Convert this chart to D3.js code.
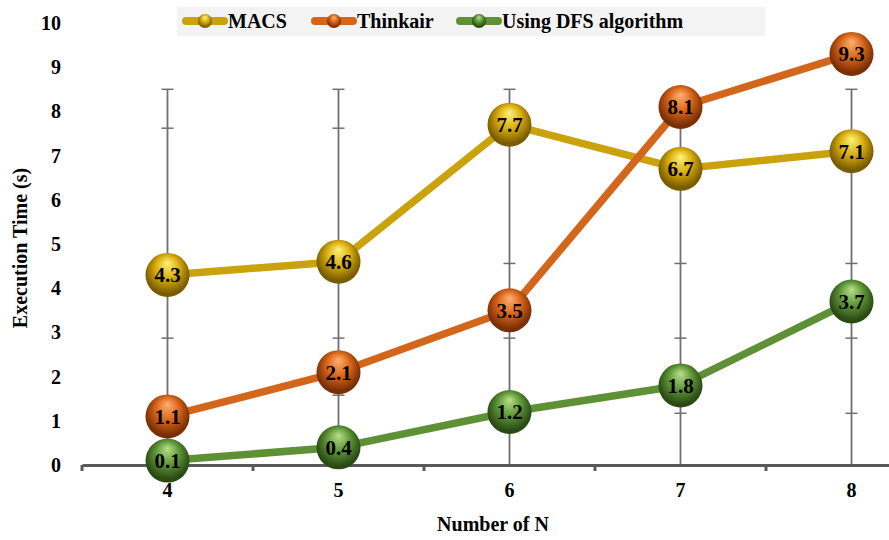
<!DOCTYPE html>
<html>
<head>
<meta charset="utf-8">
<script src="https://cdn.jsdelivr.net/npm/d3@7"></script>
<style>
  html, body { margin: 0; padding: 0; background: #fff; }
  svg { display: block; }
  text { font-family: "Liberation Serif", "Times New Roman", serif; font-weight: bold; fill: #000; }
</style>
</head>
<body>
<svg id="chart" width="889" height="540"></svg>
<script>
// Categories along the x axis
const categories = ["4", "5", "6", "7", "8"];

// Execution time (s) for each approach
const macs = [4.3, 4.6, 7.7, 6.7, 7.1];
const thinkair = [1.1, 2.1, 3.5, 8.1, 9.3];
const dfs = [0.1, 0.4, 1.2, 1.8, 3.7];

const seriesNames = ["MACS", "Thinkair", "Using DFS algorithm"];

// Y axis ticks
const yTicks = [0, 1, 2, 3, 4, 5, 6, 7, 8, 9, 10];

// Range bars drawn at each category: top value and tick positions
const rangeTop = [8.5, 8.5, 8.5, 8.5, 8.5];
const rangeTicks = [
  [7.62, 2.87],
  [7.62, 2.87, 1.58],
  [7.62, 4.56, 2.87],
  [4.56, 2.87, 1.17],
  [4.56, 2.87, 1.17]
];

const colors = {
  "MACS": { line: "#C9A20C", light: "#FFF27A", base: "#D9AE0E", dark: "#7A5C00" },
  "Thinkair": { line: "#D4661C", light: "#FFB070", base: "#D9661A", dark: "#7A2E05" },
  "Using DFS algorithm": { line: "#5E9136", light: "#B8E08A", base: "#5E9638", dark: "#2A4A14" }
};

const svg = d3.select("#chart");
const defs = svg.append("defs");

seriesNames.forEach((name, i) => {
  const c = colors[name];
  const g = defs.append("radialGradient")
    .attr("id", "sphere" + i)
    .attr("cx", "50%").attr("cy", "45%").attr("r", "60%")
    .attr("fx", "50%").attr("fy", "22%");
  g.append("stop").attr("offset", "0%").attr("stop-color", c.light);
  g.append("stop").attr("offset", "45%").attr("stop-color", c.base);
  g.append("stop").attr("offset", "85%").attr("stop-color", c.dark);
  g.append("stop").attr("offset", "100%").attr("stop-color", c.dark);
});

const x = d3.scaleBand().domain(categories).range([82, 937]);
const y = d3.scaleLinear().domain([0, 10]).range([465, 23]);
const cx = d => x(d) + x.bandwidth() / 2;

// Range bars
const rb = svg.append("g").attr("class", "range-bars");
categories.forEach((c, i) => {
  rb.append("line")
    .attr("x1", cx(c)).attr("x2", cx(c))
    .attr("y1", y(0)).attr("y2", y(rangeTop[i]))
    .attr("stroke", "#707070").attr("stroke-width", 1.8);
  [rangeTop[i]].concat(rangeTicks[i]).forEach(v => {
    rb.append("line")
      .attr("x1", cx(c) - 6).attr("x2", cx(c) + 6)
      .attr("y1", y(v)).attr("y2", y(v))
      .attr("stroke", "#707070").attr("stroke-width", 1.5);
  });
});

// X axis
const xAxis = d3.axisBottom(x).tickSize(0).tickPadding(18);
const gx = svg.append("g").attr("transform", `translate(0,${y(0)})`).call(xAxis);
gx.select(".domain").attr("stroke", "#595959").attr("stroke-width", 3);
gx.selectAll("text").attr("font-size", 20).style("font-family", "Liberation Serif, serif").style("font-weight", "bold").attr("fill", "#000");
// Boundary ticks between categories
const bounds = categories.map(c => x(c)).concat([x.range()[1]]);
gx.selectAll(".bound").data(bounds).enter().append("line")
  .attr("x1", d => d).attr("x2", d => d).attr("y1", 0).attr("y2", 6)
  .attr("stroke", "#595959").attr("stroke-width", 3);

// Y axis labels only
const yAxis = d3.axisLeft(y).tickValues(yTicks).tickSize(0).tickPadding(0);
const gy = svg.append("g").attr("transform", "translate(61,0)").call(yAxis);
gy.select(".domain").remove();
gy.selectAll("text").attr("font-size", 20).style("font-family", "Liberation Serif, serif").style("font-weight", "bold").attr("fill", "#000");

// Series lines and markers
const allSeries = [macs, thinkair, dfs];
const line = d3.line().x((d, i) => cx(categories[i])).y(d => y(d));
allSeries.forEach((vals, si) => {
  const name = seriesNames[si];
  const g = svg.append("g");
  g.append("path").datum(vals).attr("d", line)
    .attr("fill", "none").attr("stroke", colors[name].line)
    .attr("stroke-width", 7.5).attr("stroke-linejoin", "round");
  const m = g.selectAll(".m").data(vals).enter().append("g")
    .attr("transform", (d, i) => `translate(${cx(categories[i])},${y(d)})`);
  m.append("circle").attr("r", 22).attr("fill", `url(#sphere${si})`);
  m.append("text").attr("text-anchor", "middle").attr("dy", "0.35em")
    .attr("font-size", 21).text(d => d.toFixed(1));
});

// Axis titles
svg.append("text").attr("x", 493).attr("y", 531).attr("text-anchor", "middle")
  .attr("font-size", 20).text("Number of N");
svg.append("text").attr("transform", "translate(27,248) rotate(-90)")
  .attr("text-anchor", "middle").attr("font-size", 20).text("Execution Time (s)");

// Legend
const lg = svg.append("g");
lg.append("rect").attr("x", 177).attr("y", 7).attr("width", 588).attr("height", 29).attr("fill", "#f3f3f3");
const legendX = [183, 312, 457];
seriesNames.forEach((name, i) => {
  const g = lg.append("g").attr("transform", `translate(${legendX[i]},21)`);
  g.append("line").attr("x1", 3).attr("x2", 41).attr("y1", 0).attr("y2", 0)
    .attr("stroke", colors[name].line).attr("stroke-width", 8).attr("stroke-linecap", "round");
  g.append("circle").attr("cx", 22).attr("cy", 0).attr("r", 7).attr("fill", `url(#sphere${i})`);
  g.append("text").attr("x", 45).attr("y", 7).attr("font-size", 20).text(name);
});
</script>
</body>
</html>
